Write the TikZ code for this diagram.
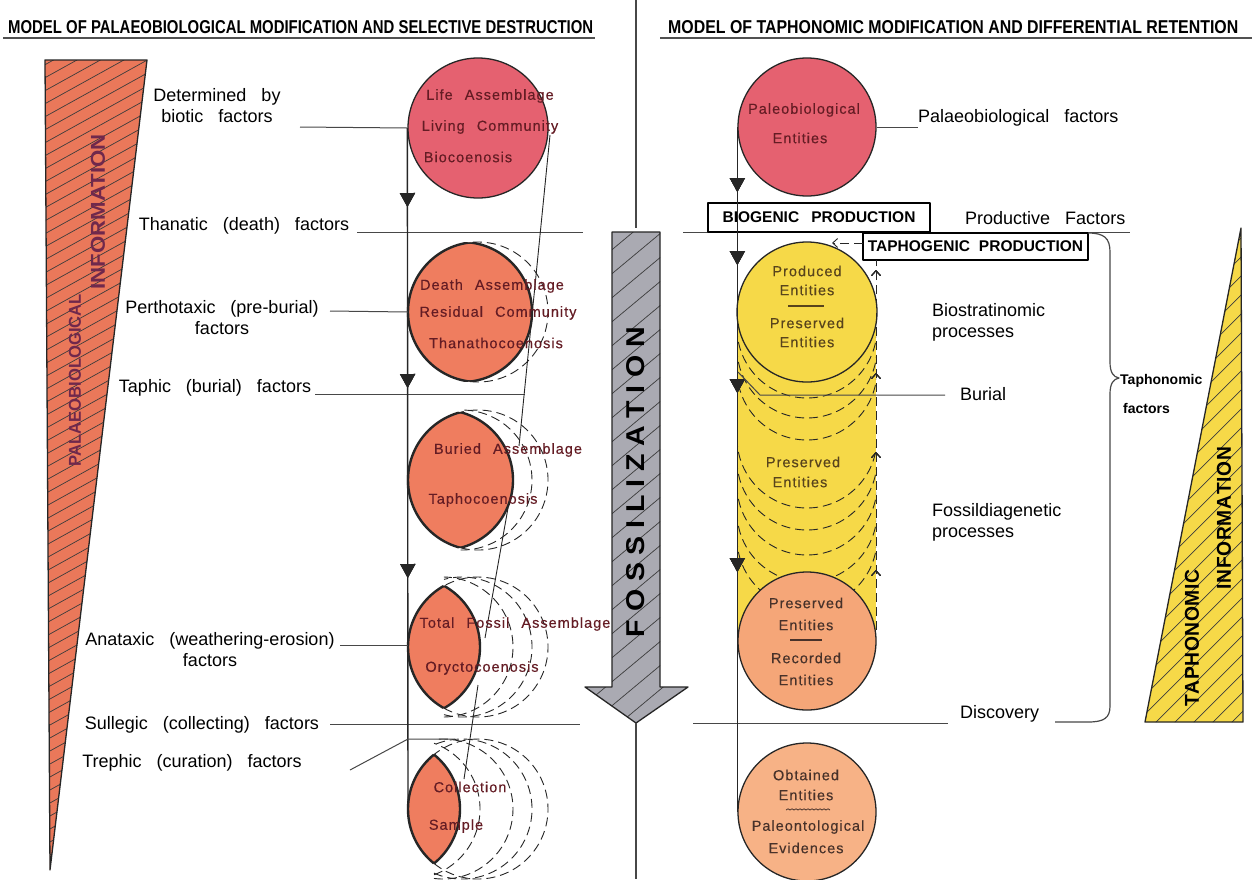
\documentclass[tikz,border=0pt]{standalone}
\usepackage{fontspec}
\usepackage{graphicx}
\setmainfont{Liberation Sans}
\newfontfamily\lab[WordSpace=3]{Liberation Sans}
\newfontfamily\leroy[LetterSpace=7,WordSpace=2.4,FakeBold=0.3]{Liberation Sans}
\usetikzlibrary{arrows.meta,decorations.markings}
\definecolor{lifered}{RGB}{229,97,112}
\definecolor{deathor}{RGB}{239,125,95}
\definecolor{trior}{RGB}{234,120,90}
\definecolor{yel}{RGB}{246,217,72}
\definecolor{salmon}{RGB}{245,166,120}
\definecolor{salmontwo}{RGB}{247,178,134}
\definecolor{agrey}{RGB}{170,170,178}
\definecolor{ctred}{RGB}{100,28,36}
\definecolor{ctyel}{RGB}{88,68,28}
\definecolor{ctsal}{RGB}{72,50,42}
\definecolor{ink}{RGB}{38,38,38}
\definecolor{tpurp}{RGB}{112,40,76}
\tikzset{
  lab/.style={font=\lab\fontsize{18}{21}\selectfont, inner sep=0pt, text=black},
  ctxt/.style={font=\leroy\fontsize{14.5}{16}\selectfont, inner sep=0pt, text=ctred},
  ytxt/.style={font=\leroy\fontsize{14.5}{16}\selectfont, inner sep=0pt, text=ctyel},
  stxt/.style={font=\leroy\fontsize{14.5}{16}\selectfont, inner sep=0pt, text=ctsal},
  factorline/.style={draw=ink!85, line width=1pt},
  flowline/.style={draw=ink, line width=1.4pt},
  thinlink/.style={draw=ink, line width=0.9pt},
  dashedarc/.style={draw=ink, line width=0.9pt, dash pattern=on 9pt off 5pt},
  hatchL/.style={draw=ink!90, line width=0.7pt},
  outl/.style={draw=ink, line width=1.3pt},
  circnode/.style={circle, minimum size=#1, inner sep=0pt, draw=ink, line width=1.3pt},
  prodbox/.style={draw=black, line width=2pt, fill=white, inner sep=0pt,
     font=\bfseries\fontsize{15.5}{17}\selectfont, text=black},
  uline/.style={draw=ink!80, line width=1.6pt},
  downtri/.style={decoration={markings, mark=at position #1 with {\arrow{Triangle[length=14pt,width=15pt]}}}, postaction={decorate}},
  upbarb/.style={decoration={markings, mark=at position #1 with {\arrow{Straight Barb[length=5pt,width=9pt]}}}, postaction={decorate}}
}
\newcommand\lensshape[4]{%
  \begin{scope}\clip (#1-#3,#2) circle[radius=70];
    \fill[#4] (#1,#2) circle[radius=70];
    \draw[draw=ink, line width=2.4pt] (#1,#2) circle[radius=70];\end{scope}
  \begin{scope}\clip (#1,#2) circle[radius=70];
    \draw[draw=ink, line width=2.4pt] (#1-#3,#2) circle[radius=70];\end{scope}}
\newcommand\dasharc[4]{%
  \draw[dashedarc] (#1-#3,#2) ++(#4:70) arc[start angle=#4, end angle=-#4, radius=70];}
\begin{document}
\begin{tikzpicture}[x=1pt,y=-1pt,line join=round]
\fill[white] (0,0) rectangle (1252,879);
\useasboundingbox (0,0) rectangle (1252,879);

% ---------- headers ----------
\node[anchor=south west, inner sep=0pt] (hleft) at (8,34)
  {\resizebox{585pt}{13pt}{\bfseries MODEL OF PALAEOBIOLOGICAL MODIFICATION AND SELECTIVE DESTRUCTION}};
\draw[uline] (3,38) -- (595,38);
\node[anchor=south west, inner sep=0pt] (hright) at (668,34)
  {\resizebox{570pt}{13pt}{\bfseries MODEL OF TAPHONOMIC MODIFICATION AND DIFFERENTIAL RETENTION}};
\draw[uline] (660,38) -- (1252,38);

% ---------- left triangle ----------
\fill[trior] (45,60) -- (147,60) -- (50,870) -- cycle;
\begin{scope}
  \clip (45,60) -- (147,60) -- (50,870) -- cycle;
  \foreach \k in {0,...,75} \draw[hatchL] (30,{60+\k*13}) -- ++(130,-72);
\end{scope}
\draw[outl] (45,60) -- (147,60) -- (50,870) -- cycle;
\node[rotate=90, inner sep=0pt, text=tpurp] (palt) at (75,380)
  {\resizebox{172pt}{12pt}{\bfseries PALAEOBIOLOGICAL}};
\node[rotate=90, inner sep=0pt, text=tpurp] (inft) at (98,212)
  {\resizebox{155pt}{14pt}{\bfseries INFORMATION}};

% ---------- fossilization arrow ----------
\fill[agrey] (612,232) -- (660,232) -- (660,687) -- (688,687) -- (636,723) -- (585,687) -- (612,687) -- cycle;
\begin{scope}
  \clip (612,232) -- (660,232) -- (660,687) -- (688,687) -- (636,723) -- (585,687) -- (612,687) -- cycle;
  \foreach \k in {0,...,32} \draw[hatchL] (578,{230+\k*24}) -- ++(120,-100);
\end{scope}
\draw[outl] (612,232) -- (660,232) -- (660,687) -- (688,687) -- (636,723) -- (585,687) -- (612,687) -- cycle;
\coordinate (ftip) at (636,723);
\coordinate (ftop) at (636,232);
\node[rotate=90, inner sep=0pt] (fossil) at (636,482)
  {\resizebox{310pt}{18pt}{\bfseries F\hspace{0.27em}O\hspace{0.27em}S\hspace{0.27em}S\hspace{0.27em}I\hspace{0.27em}L\hspace{0.27em}I\hspace{0.27em}Z\hspace{0.27em}A\hspace{0.27em}T\hspace{0.27em}I\hspace{0.27em}O\hspace{0.27em}N}};
\draw[ink!85, line width=1.2pt] (636,0) -- (636,228);
\draw[ink!85, line width=1.2pt] (ftip) -- (636,879);

% ---------- left factor lines ----------
\coordinate (thA) at (357,232); \coordinate (thB) at (583,232);
\coordinate (taA) at (315,394); \coordinate (taB) at (525,394);
\coordinate (suA) at (330,724); \coordinate (suB) at (580,724);
\draw[factorline] (thA) -- (thB);
\draw[factorline] (taA) -- (taB);
\draw[factorline] (suA) -- (suB);

% ---------- left circles ----------
\node[circnode=140pt, fill=lifered] (life) at (478,128) {};
\lensshape{478}{312}{16}{deathor}
\dasharc{478}{312}{0}{96.6}
\lensshape{478}{480}{35}{deathor}
\dasharc{478}{480}{0}{104.5}
\dasharc{478}{480}{16}{91.2}
\lensshape{478}{647}{68}{deathor}
\dasharc{478}{647}{0}{119.1}
\dasharc{478}{647}{16}{104.9}
\dasharc{478}{647}{35}{89.2}
\lensshape{478}{809}{88}{deathor}
\dasharc{478}{809}{0}{128.9}
\dasharc{478}{809}{16}{113.6}
\dasharc{478}{809}{35}{97.4}
\dasharc{478}{809}{68}{69.9}
\coordinate (death) at (408,312);
\coordinate (buried) at (408,480);
\coordinate (total) at (408,647);
\coordinate (lbot) at (408,809);

% main left flow
\draw[flowline, downtri=79pt, downtri=260pt, downtri=450pt] (life.west) -- (lbot);

% thin continuity links
\coordinate (lkA) at (550,135); \coordinate (lkB) at (519,446);
\coordinate (lkC) at (508,508); \coordinate (lkD) at (485,638);
\coordinate (lkE) at (478,685); \coordinate (lkF) at (464,779);
\draw[thinlink] (lkA) -- (lkB);
\draw[thinlink] (lkC) -- (lkD);
\draw[thinlink] (lkE) -- (lkF);

% left labels and their lines
\node[lab, align=center] (det) at (217,106) {Determined by\\biotic factors};
\coordinate (detL) at (300,127);
\draw[factorline] (detL) -- (life.west);
\node[lab] (tha) at (244,226) {Thanatic (death) factors};
\node[lab, align=center] (per) at (222,318) {Perthotaxic (pre-burial)\\factors};
\coordinate (perL) at (330,311);
\draw[factorline] (perL) -- (death);
\node[lab] (tap) at (215,388) {Taphic (burial) factors};
\node[lab, align=center] (ana) at (210,650) {Anataxic (weathering-erosion)\\factors};
\coordinate (anaL) at (340,645);
\draw[factorline] (anaL) -- (408,645);
\node[lab] (sul) at (202,725) {Sullegic (collecting) factors};
\node[lab] (tre) at (192,763) {Trephic (curation) factors};
\coordinate (treA) at (350,770); \coordinate (treB) at (408,739); \coordinate (treC) at (455,739);
\draw[factorline] (treA) -- (treB) -- (treC);

% left circle texts
\node[ctxt] at (490,96) {Life Assemblage};
\node[ctxt] at (490,127) {Living Community};
\node[ctxt] at (468,157) {Biocoenosis};
\node[ctxt] at (492,286) {Death Assemblage};
\node[ctxt] at (498,313) {Residual Community};
\node[ctxt] at (496,343) {Thanathocoenosis};
\node[ctxt] at (508,450) {Buried Assemblage};
\node[ctxt] at (483,500) {Taphocoenosis};
\node[ctxt] at (515,624) {Total Fossil Assemblage};
\node[ctxt] at (482,668) {Oryctocoenosis};
\node[ctxt] at (470,787) {Collection};
\node[ctxt] at (456,826) {Sample};

% ---------- right column ----------
\draw[factorline] (683,232) -- (1130,232);
\coordinate (diA) at (693,723); \coordinate (diB) at (948,723);
\draw[factorline] (diA) -- (diB);

% yellow column
\fill[yel] (738,312) rectangle (876,641);
\begin{scope}
  \clip (738,300) rectangle (876,641);
  \foreach \b in {398,418,440,508,530,555,582,608}
    \draw[dashedarc] (737,{\b-70}) arc[start angle=180, end angle=0, radius=70];
\end{scope}
\node[circnode=140pt, fill=yel] (prodc) at (807,312) {};
\node[circnode=138pt, fill=salmon] (recc) at (807,641) {};
\node[circnode=138pt, fill=salmontwo] (obtc) at (807,812) {};
\node[circnode=138pt, fill=lifered] (paleo) at (807,127) {};

% boxes
\node[prodbox, minimum width=222pt, minimum height=29pt] (biog) at (819,217.5) {BIOGENIC\hspace{0.5em} PRODUCTION};
\node[prodbox, minimum width=225pt, minimum height=27pt] (taph) at (975.5,246.5) {TAPHOGENIC\hspace{0.3em} PRODUCTION};

% dashed feedback
\coordinate (dtop) at (876,260);
\coordinate (dbot) at (876,630);
\draw[dashedarc, upbarb=60pt, upbarb=178pt, upbarb=257pt, upbarb=360pt] (dbot) -- (dtop);
\coordinate (fbA) at (863,243); \coordinate (fbB) at (832,243);
\draw[dashedarc, -{Straight Barb[length=5pt,width=9pt]}] (fbA) -- (fbB);

% main right flow
\draw[flowline, downtri=65pt, downtri=138pt, downtri=266pt, downtri=445pt] (paleo.west) -- (obtc.west);

% burial connector
\node[lab, anchor=west] (bur) at (960,394) {Burial};
\coordinate (buA) at (945,395); \coordinate (buB) at (760,395); \coordinate (buC) at (738,372);
\draw[factorline] (buA) -- (buB) -- (buC);

% right labels
\node[lab, anchor=west] (pf) at (918,118) {Palaeobiological factors};
\draw[factorline] (paleo.east) -- (pf.west |- paleo.east);
\node[lab, anchor=west] (prodf) at (965,218) {Productive Factors};
\node[lab, anchor=west, align=left] (bios) at (932,322) {Biostratinomic\\processes};
\node[lab, anchor=west, align=left] (fosd) at (932,522) {Fossildiagenetic\\processes};
\node[lab, anchor=west] (disc) at (960,714) {Discovery};

% brace
\coordinate (brtip) at (1119,378);
\draw[ink!85, line width=1.2pt] (1088,233) .. controls (1104,233) and (1110,238) .. (1110,252) -- (1110,362)
  .. controls (1110,372) and (1113,377) .. (brtip) .. controls (1113,379) and (1110,384) .. (1110,394)
  -- (1110,706) .. controls (1110,718) and (1104,722) .. (1088,722) -- (1055,722);
\node[anchor=west, inner sep=0pt, font=\bfseries\fontsize{14}{16}\selectfont] (tfa) at (1120,381) {Taphonomic};
\node[anchor=west, inner sep=0pt, font=\bfseries\fontsize{14}{16}\selectfont] (tfb) at (1123,408) {factors};

% right triangle
\fill[yel] (1241,228) -- (1243,722) -- (1145,722) -- cycle;
\begin{scope}
  \clip (1241,228) -- (1243,722) -- (1145,722) -- cycle;
  \foreach \k in {0,...,40} \draw[hatchL] (1135,{230+\k*19}) -- ++(120,-120);
\end{scope}
\draw[outl] (1241,228) -- (1243,722) -- (1145,722) -- cycle;
\node[rotate=90, inner sep=0pt] (tapt) at (1192,638)
  {\resizebox{137pt}{14pt}{\bfseries T\hspace{0.03em}A\hspace{0.03em}P\hspace{0.03em}H\hspace{0.03em}O\hspace{0.03em}N\hspace{0.03em}O\hspace{0.03em}M\hspace{0.03em}I\hspace{0.03em}C}};
\node[rotate=90, inner sep=0pt] (inft2) at (1224,518)
  {\resizebox{143pt}{14pt}{\bfseries I\hspace{0.04em}N\hspace{0.04em}F\hspace{0.04em}O\hspace{0.04em}R\hspace{0.04em}M\hspace{0.04em}A\hspace{0.04em}T\hspace{0.04em}I\hspace{0.04em}O\hspace{0.04em}N}};

% right circle texts
\node[ctxt] at (804,110) {Paleobiological};
\node[ctxt] at (800,138) {Entities};
\node[ytxt] at (807,271) {Produced};
\node[ytxt] at (807,290) {Entities};
\draw[ctyel, line width=1.2pt] (788,306) -- (824,306);
\node[ytxt] at (807,323) {Preserved};
\node[ytxt] at (807,342) {Entities};
\node[ytxt] at (803,462) {Preserved};
\node[ytxt] at (800,482) {Entities};
\node[stxt] at (806,603) {Preserved};
\node[stxt] at (806,625) {Entities};
\draw[ctsal, line width=1.2pt] (790,640) -- (822,640);
\node[stxt] at (806,658) {Recorded};
\node[stxt] at (806,680) {Entities};
\node[stxt] at (806,775) {Obtained};
\node[stxt] at (806,795) {Entities};
\draw[ctsal, line width=0.8pt] (786,810) \foreach \i in {1,...,11} { -- ++(2,-1.2) -- ++(2,1.2) };
\node[stxt] at (808,827) {Paleontological};
\node[stxt] at (806,848) {Evidences};
\end{tikzpicture}
\end{document}
